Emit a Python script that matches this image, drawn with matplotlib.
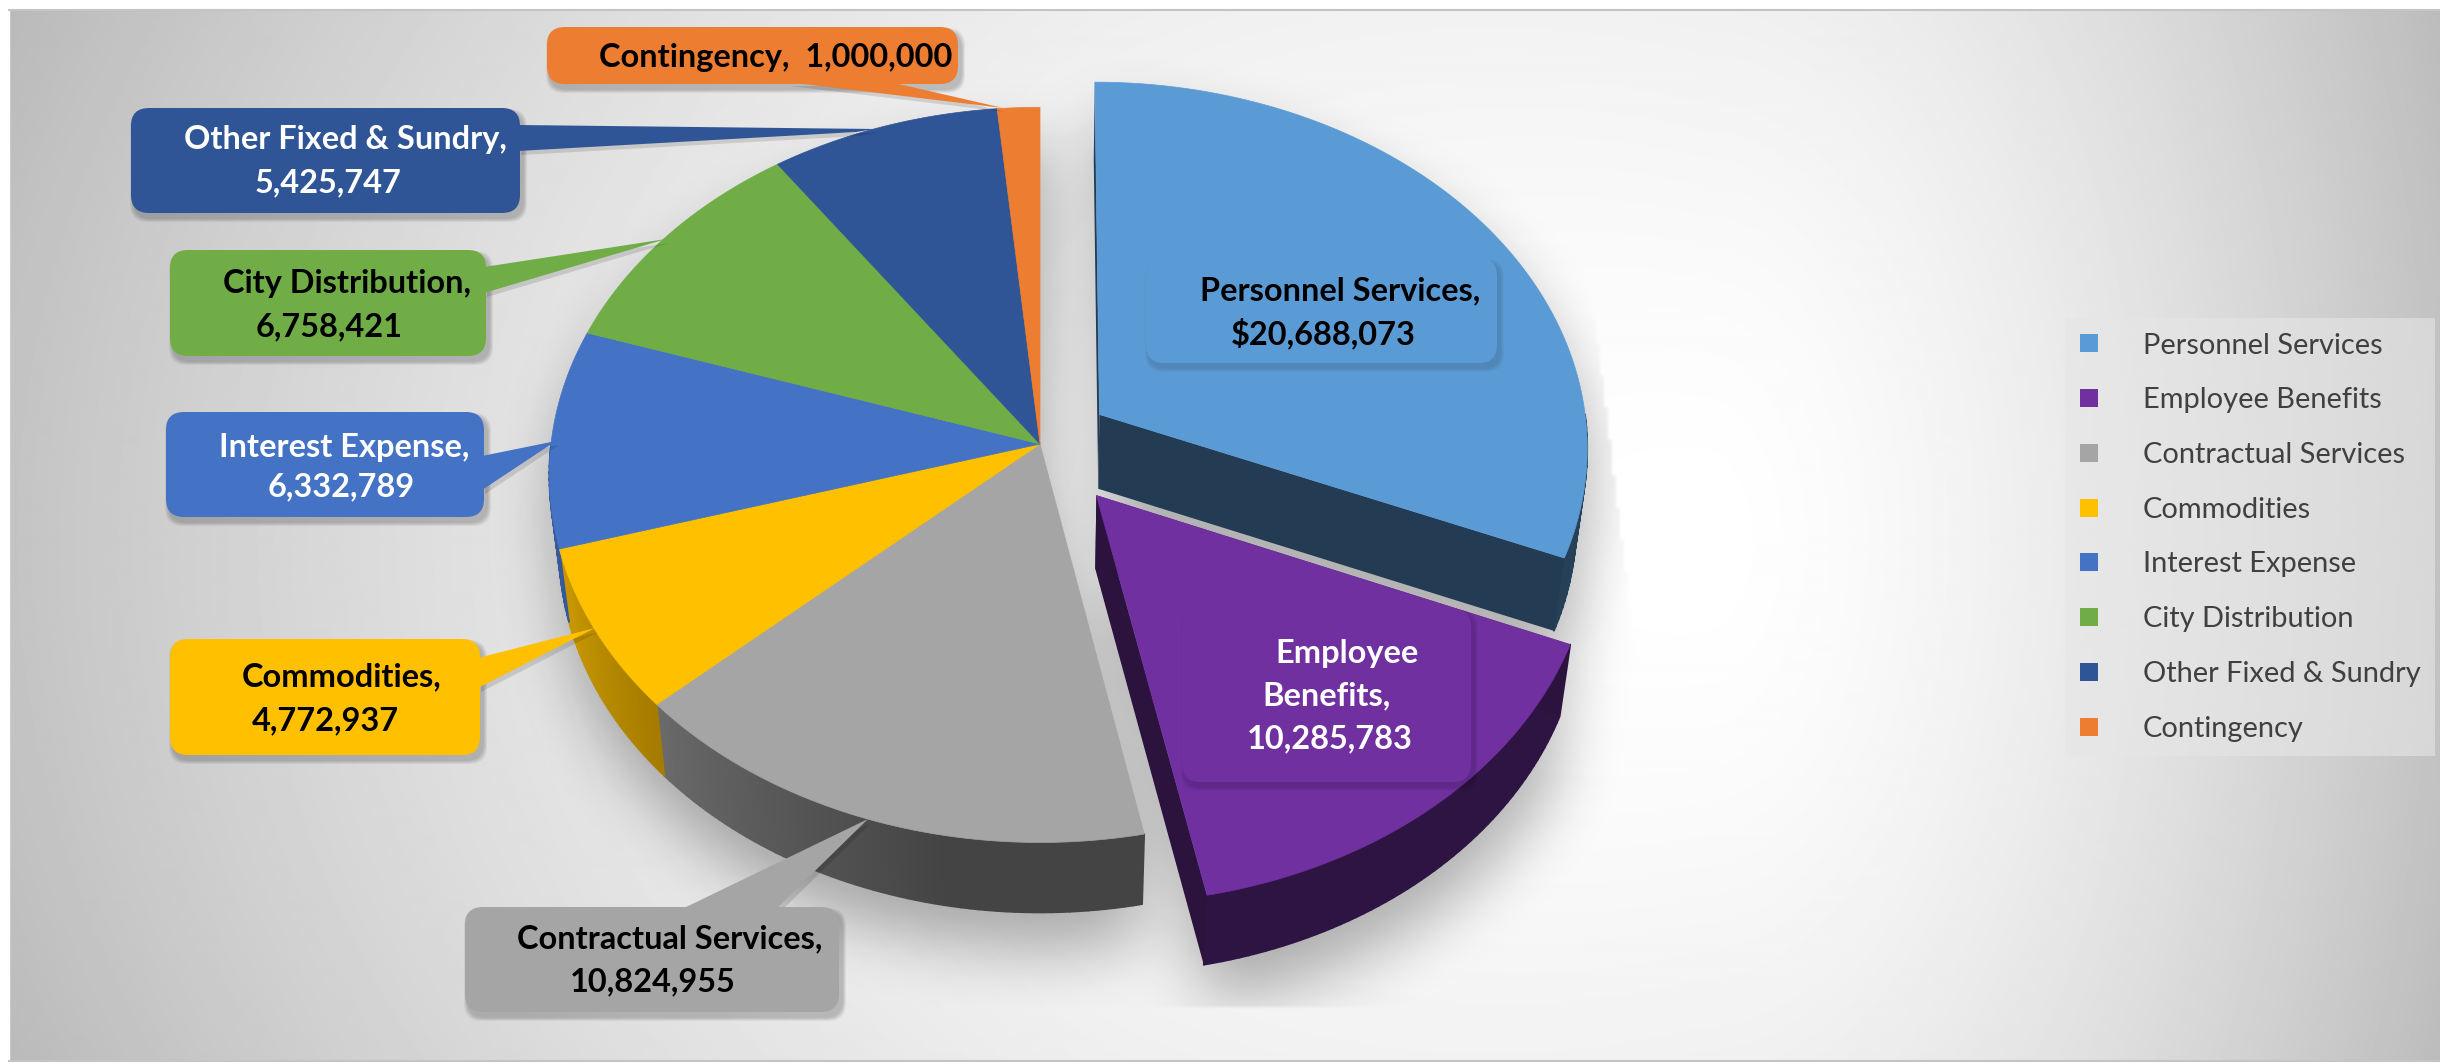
#!/usr/bin/env python3

import numpy as np
import matplotlib
matplotlib.use('Agg')
import matplotlib.pyplot as plt
from matplotlib.collections import PolyCollection
from matplotlib.lines import Line2D
from matplotlib.patches import FancyBboxPatch, Polygon
from matplotlib.path import Path

categories = ['Personnel Services', 'Employee Benefits', 'Contractual Services', 'Commodities',
              'Interest Expense', 'City Distribution', 'Other Fixed & Sundry', 'Contingency']
values = [20688073, 10285783, 10824955, 4772937, 6332789, 6758421, 5425747, 1000000]
explode = [0.147, 0.18, 0, 0, 0, 0, 0, 0]
colors = ['#5B9BD5', '#7030A0', '#A5A5A5', '#FFC000', '#4472C4', '#70AD47', '#2F5597', '#ED7D31']

# label text, one entry per line: (text, x, y)
label_lines = [
    [('Personnel Services,', 1200, 291), ('$20,688,073', 1231, 333)],
    [('Employee', 1275, 653), ('Benefits,', 1262, 696), ('10,285,783', 1247, 739)],
    [('Contractual Services,', 517, 939), ('10,824,955', 570, 982)],
    [('Commodities,', 242, 677), ('4,772,937', 252, 721)],
    [('Interest Expense,', 219, 447), ('6,332,789', 268, 487)],
    [('City Distribution,', 223, 283), ('6,758,421', 256, 327)],
    [('Other Fixed & Sundry,', 184, 140), ('5,425,747', 255, 183)],
    [('Contingency,  1,000,000', 599, 57)],
]
label_colors = ['black', 'white', 'black', 'black', 'white', 'black', 'white', 'black']
# x0, y0, x1, y1 of each callout box
label_boxes = [(1146, 258, 1497, 363), (1182, 609, 1471, 782), (465, 907, 839, 1012), (170, 639, 480, 755),
               (166, 412, 484, 517), (170, 250, 486, 356), (131, 108, 520, 213), (547, 27, 958, 84)]
# pointer triangles, None if the box sits on its slice
label_tips = [None, None,
              [(682, 909), (776, 909), (868, 819)],
              [(478, 658), (478, 688), (595, 628)],
              [(482, 456), (482, 490), (556, 441)],
              [(484, 267), (484, 293), (666, 239)],
              [(518, 125), (518, 151), (856, 132), (875, 129)],
              [(787, 82), (890, 82), (1003, 108)]]

W, H = 2440, 1063
CX, CY = 1040, 444
RX, RY = 489, 365
PERSP = 0.084
DEPTH = 74
BOTTOM_X = 0.98
BOTTOM_Y = 0.99


def project(mx, my):
    w = 1 + PERSP * my
    return CX + RX * mx / w, CY - RY * my / w


def lower(sx, sy):
    # the bottom face is further from the camera, so it is a bit smaller
    return CX + (sx - CX) * BOTTOM_X, CY + (sy - CY) * BOTTOM_Y + DEPTH


def slice_outline(a0, a1, off):
    th = np.radians(np.arange(a0, a1, 0.5).tolist() + [a1])
    mx = np.concatenate([[off[0]], off[0] + np.sin(th)])
    my = np.concatenate([[off[1]], off[1] + np.cos(th)])
    return project(mx, my)


def side_shade(theta):
    return np.interp(theta, [190, 250], [0.41, 0.78])


def darker(col, k):
    return tuple(c * k for c in matplotlib.colors.to_rgb(col))


def box_blur(a, r, passes=3):
    kernel = np.ones(2 * r + 1) / (2 * r + 1)
    for i in range(passes):
        a = np.apply_along_axis(lambda v: np.convolve(v, kernel, mode='same'), 0, a)
        a = np.apply_along_axis(lambda v: np.convolve(v, kernel, mode='same'), 1, a)
    return a


fig = plt.figure(figsize=(W / 100, H / 100), dpi=100)
ax = fig.add_axes([0, 0, 1, 1])

# background: off-centre gradient
yy, xx = np.mgrid[0:H:2, 0:W:2]
cgx, cgy = 1700, 540
dx = np.where(xx < cgx, (cgx - xx) / 1700.0, (xx - cgx) / 740.0)
dy = (yy - cgy) / 1310.0
t = np.clip(np.hypot(dx, dy), 0, 1.15)
power = 1.55 + 0.5 * np.clip((cgx - xx) / 600.0, 0, 1)
bg = np.clip(1.0 - 0.235 * t ** power, 0, 1)
ax.imshow(bg, cmap='gray', vmin=0, vmax=1, extent=(0, W, H, 0), aspect='auto', zorder=0, interpolation='bilinear')
ax.add_patch(plt.Rectangle((0, 0), W, 9, color='white', zorder=0.5))
ax.add_patch(plt.Rectangle((0, 1061), W, 2, color='white', zorder=0.5))
ax.add_patch(plt.Rectangle((0, 0), 9, H, color='white', zorder=0.5))
ax.plot([9, W], [9.5, 9.5], color='#c4c4c4', lw=1.5, zorder=0.6)
ax.plot([9, W], [1060.5, 1060.5], color='#c4c4c4', lw=1.5, zorder=0.6)

fractions = np.array(values) / sum(values)
starts = np.concatenate([[0], np.cumsum(fractions)[:-1]]) * 360
ends = np.cumsum(fractions) * 360

offsets = []
for s, e, ex in zip(starts, ends, explode):
    mid = np.radians((s + e) / 2)
    offsets.append((ex * np.sin(mid), ex * np.cos(mid)))

# soft shadow under the whole pie, cut off hard at the right and at the bottom like the original
gy, gx = np.mgrid[0:H:4, 0:W:4]
pts = np.column_stack([gx.ravel() - 4, gy.ravel() - 36])
mask = np.zeros(gx.shape)
for s, e, off in zip(starts, ends, offsets):
    sx, sy = slice_outline(s, e, off)
    lx, ly = lower(sx, sy)
    for a, b in ((sx, sy), (lx, ly)):
        mask = np.maximum(mask, Path(np.column_stack([a, b])).contains_points(pts).reshape(gx.shape))
mask = box_blur(mask, 7)
mask[gy > 1006] = 0
mask[gx > 1599 + 0.1218 * (gy - 366)] = 0
rgba = np.zeros(mask.shape + (4,))
rgba[..., 3] = mask * 0.3
ax.imshow(rgba, extent=(0, W, H, 0), aspect='auto', zorder=1, interpolation='bilinear')

# side walls, cut faces, then tops
for i in range(len(values)):
    s, e, off = starts[i], ends[i], offsets[i]
    a0, a1 = max(s, 90), min(e, 270)
    if a1 > a0:
        th = np.arange(a0, a1, 1.0).tolist() + [a1]
        polys, cols = [], []
        for p, q in zip(th[:-1], th[1:]):
            pr, qr = np.radians(p), np.radians(q)
            px, py = project(off[0] + np.sin(pr), off[1] + np.cos(pr))
            qx, qy = project(off[0] + np.sin(qr), off[1] + np.cos(qr))
            polys.append([(px, py), (qx, qy), lower(qx, qy), lower(px, py)])
            cols.append(darker(colors[i], side_shade((p + q) / 2)))
        ax.add_collection(PolyCollection(polys, facecolors=cols, edgecolors=cols, linewidths=1.2, zorder=2))
    if explode[i] > 0:
        ax_, ay_ = project(off[0], off[1])
        for ang in (s, e):
            r = np.radians(ang)
            rx_, ry_ = project(off[0] + np.sin(r), off[1] + np.cos(r))
            ax.add_patch(Polygon([(ax_, ay_), (rx_, ry_), lower(rx_, ry_), lower(ax_, ay_)],
                                 facecolor=darker(colors[i], 0.39), edgecolor='none', zorder=2.2))

for i in range(len(values)):
    sx, sy = slice_outline(starts[i], ends[i], offsets[i])
    ax.fill(sx, sy, facecolor=colors[i], edgecolor=colors[i], linewidth=0.5, zorder=3)

# callouts
for i in range(len(values)):
    x0, y0, x1, y1 = label_boxes[i]
    rad = min(18, (y1 - y0) / 3)
    tip = label_tips[i]
    shadow_alpha = 0.055 if tip is not None else 0.03
    for k in range(4, 0, -1):
        ax.add_patch(FancyBboxPatch((x0 + rad + 3, y0 + rad + 5), x1 - x0 - 2 * rad, y1 - y0 - 2 * rad,
                                    boxstyle='round,pad=%g,rounding_size=%g' % (rad + k, rad),
                                    facecolor='black', edgecolor='none', alpha=shadow_alpha, zorder=4))
    if tip is not None:
        ax.add_patch(Polygon([(a + 3, b + 4) for a, b in tip], facecolor='black', edgecolor='none', alpha=0.12, zorder=4))
        ax.add_patch(Polygon(tip, facecolor=colors[i], edgecolor='none', zorder=4.1))
    ax.add_patch(FancyBboxPatch((x0 + rad, y0 + rad), x1 - x0 - 2 * rad, y1 - y0 - 2 * rad,
                                boxstyle='round,pad=%g,rounding_size=%g' % (rad, rad),
                                facecolor=colors[i], edgecolor='none', zorder=4.2))
    for txt, tx, ty in label_lines[i]:
        ax.text(tx, ty, txt, color=label_colors[i], fontsize=23.4, fontweight='bold', family='Lato',
                ha='left', va='center', zorder=5)

ax.set_xlim(0, W)
ax.set_ylim(H, 0)
ax.axis('off')

handles = [Line2D([], [], linestyle='none', marker='s', markersize=13, color=c, markeredgewidth=0) for c in colors]
leg = ax.legend(handles, categories, loc='upper left', bbox_to_anchor=(2065 / W, 1 - 318 / H),
                bbox_transform=ax.transAxes, prop={'family': 'Lato', 'size': 20.9}, labelcolor='#404040',
                frameon=True, fancybox=False, framealpha=0.6, facecolor='#e6e6e6', edgecolor='none',
                labelspacing=0.99, handlelength=0.66, handletextpad=1.53, borderpad=0.5, borderaxespad=0)
leg.set_zorder(6)

plt.savefig('out.png', dpi=100)
